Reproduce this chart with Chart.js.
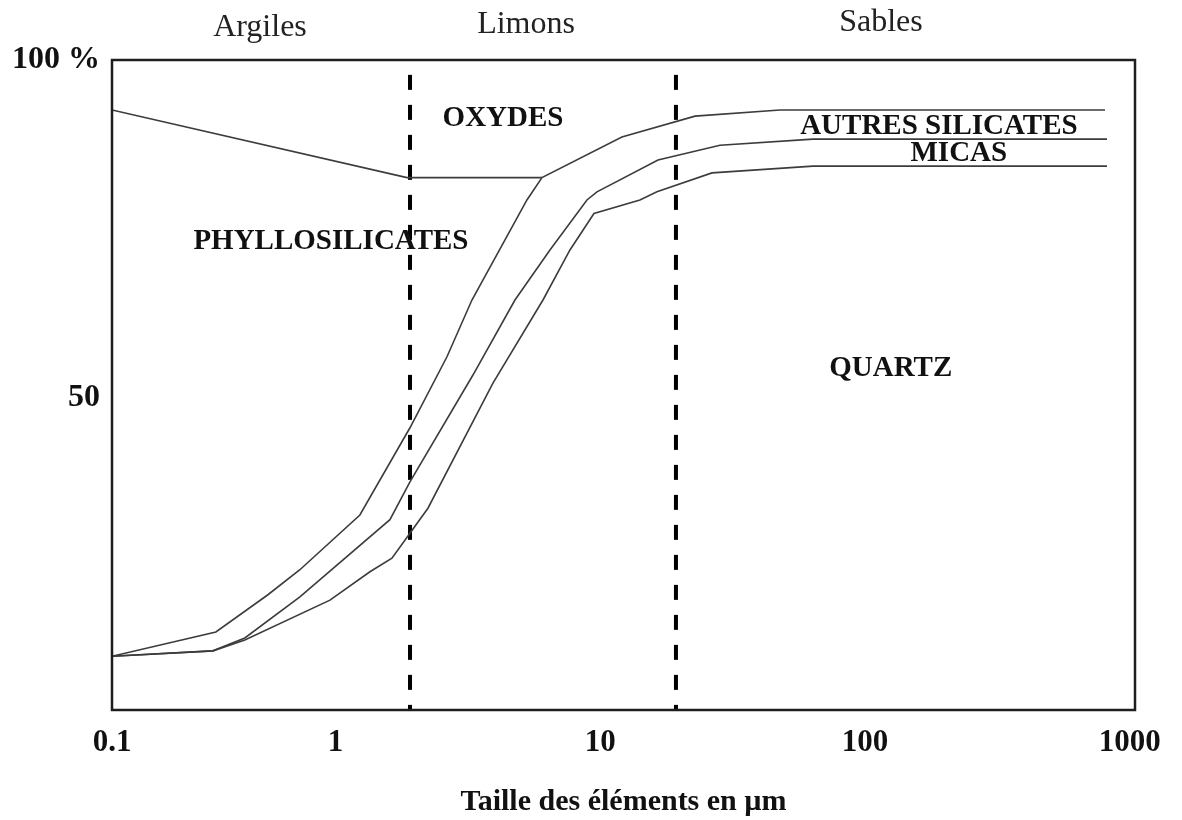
<!DOCTYPE html>
<html><head><meta charset="utf-8">
<script src="https://cdn.jsdelivr.net/npm/chart.js@4.4.1/dist/chart.umd.min.js"></script>
<style>html,body{margin:0;padding:0;background:#fff;}#wrap{width:1182px;height:820px;position:relative;}</style>
</head><body><div id="wrap"><canvas id="c" width="1182" height="820"></canvas></div>
<script>
// ---- data (x = particle size in µm, log axis; y = cumulative %) ----
// the printed axis of the original figure labels its left edge "0.1"
const X_MIN = 0.143, X_MAX = 1046;
const xTicks = [X_MIN, 1, 10, 100, 1000];
const xTickLabels = ['0.1', '1', '10', '100', '1000'];
const yTicks = [50, 100];
const yTickLabels = ['50', '100 %'];
const Y_MIN = 3.85, Y_MAX = 100;

// upper limit of phyllosilicates (lower limit of oxydes)
const phylloX = [0.143, 1.86, 6.02];
const phylloY = [92.6, 82.6, 82.6];

// upper limit of autres silicates
const autresX = [0.143, 0.353, 0.555, 0.733, 1.235, 1.909, 2.634, 3.273, 5.281, 6.018, 12.06, 22.78, 47.71, 806];
const autresY = [11.8, 15.4, 20.9, 24.6, 32.7, 45.6, 56.1, 64.5, 79.3, 82.6, 88.6, 91.7, 92.6, 92.6];

// upper limit of micas
const micasX = [0.143, 0.344, 0.454, 0.733, 1.604, 1.909, 3.302, 4.758, 6.451, 8.899, 9.710, 16.51, 28.31, 63.57, 820];
const micasY = [11.8, 12.6, 14.5, 20.6, 32.0, 37.6, 53.4, 64.5, 71.9, 79.3, 80.5, 85.2, 87.4, 88.3, 88.3];

// upper limit of quartz
const quartzX = [0.143, 0.344, 0.454, 0.952, 1.348, 1.632, 1.909, 2.232, 3.929, 6.071, 7.677, 9.459, 14.11, 16.36, 26.40, 63.57, 820];
const quartzY = [11.8, 12.6, 14.2, 20.1, 24.3, 26.3, 30.0, 33.7, 52.2, 64.5, 71.9, 77.3, 79.3, 80.5, 83.3, 84.3, 84.3];

// class boundaries (µm): argiles / limons / sables
const boundaries = [1.91, 19.3];
const boundaryTop = 97.8;

const classLabels = ['Argiles', 'Limons', 'Sables'];
const classLabelX = [0.518, 5.24, 114.8];

const regionLabels = ['OXYDES', 'AUTRES SILICATES', 'MICAS', 'PHYLLOSILICATES', 'QUARTZ'];
const regionLabelX = [4.29, 190, 226, 0.960, 125];
const regionLabelY = [91.3, 90.1, 86.1, 73.2, 54.3];

// ---- build ----
const pts = (xs, ys) => xs.map((x, i) => ({x: x, y: ys[i]}));
const lineStyle = {borderColor: '#3c3c3c', borderWidth: 1.6, pointRadius: 0, tension: 0, fill: false};
const datasets = [
  Object.assign({label: 'phyllo', data: pts(phylloX, phylloY)}, lineStyle),
  Object.assign({label: 'autres', data: pts(autresX, autresY)}, lineStyle),
  Object.assign({label: 'micas', data: pts(micasX, micasY)}, lineStyle),
  Object.assign({label: 'quartz', data: pts(quartzX, quartzY)}, lineStyle)
];
boundaries.forEach((b, i) => datasets.push({
  label: 'limit' + i, data: [{x: b, y: boundaryTop}, {x: b, y: Y_MIN}],
  borderColor: '#000', borderWidth: 4, borderDash: [15, 15], pointRadius: 0, fill: false
}));

const FONT = '"Liberation Serif", "Times New Roman", serif';

const decor = {
  id: 'decor',
  afterDatasetsDraw(chart) {
    const {ctx, chartArea: a, scales: {x, y}} = chart;
    ctx.save();
    ctx.strokeStyle = '#1e1e1e';
    ctx.lineWidth = 2.5;
    ctx.strokeRect(a.left, a.top, a.right - a.left, a.bottom - a.top);
    ctx.fillStyle = '#111';
    ctx.textAlign = 'center';
    ctx.textBaseline = 'middle';
    ctx.font = 'bold 29px ' + FONT;
    regionLabels.forEach((t, i) => ctx.fillText(t, x.getPixelForValue(regionLabelX[i]), y.getPixelForValue(regionLabelY[i])));
    ctx.font = '32px ' + FONT;
    ctx.fillStyle = '#222';
    const dy = [32, 35, 37];
    classLabels.forEach((t, i) => ctx.fillText(t, x.getPixelForValue(classLabelX[i]), a.top - dy[i]));
    ctx.restore();
  }
};

new Chart(document.getElementById('c'), {
  type: 'line',
  data: {datasets: datasets},
  options: {
    responsive: false,
    animation: false,
    layout: {padding: {top: 60, right: 47, left: 0, bottom: 0}},
    plugins: {legend: {display: false}, tooltip: {enabled: false}},
    scales: {
      x: {
        type: 'logarithmic', min: X_MIN, max: X_MAX,
        grid: {display: false, drawTicks: false},
        border: {display: false},
        afterBuildTicks: s => { s.ticks = xTicks.map(v => ({value: v})); },
        ticks: {
          autoSkip: false, maxRotation: 0, padding: 14, color: '#111',
          font: {family: FONT, size: 31, weight: 'bold'},
          callback: (v) => { const i = xTicks.indexOf(v); return i >= 0 ? xTickLabels[i] : ''; }
        },
        title: {display: true, text: 'Taille des éléments en µm', color: '#111',
                font: {family: FONT, size: 30, weight: 'bold'}, padding: {top: 18, bottom: 0}},
        afterFit: s => { s.height = 110; }
      },
      y: {
        type: 'linear', min: Y_MIN, max: Y_MAX,
        grid: {display: false, drawTicks: false},
        border: {display: false},
        afterBuildTicks: s => { s.ticks = yTicks.map(v => ({value: v})); },
        ticks: {
          padding: 12, color: '#111',
          font: {family: FONT, size: 32, weight: 'bold'},
          callback: (v) => { const i = yTicks.indexOf(v); return i >= 0 ? yTickLabels[i] : ''; }
        },
        afterFit: s => { s.width = 112; }
      }
    }
  },
  plugins: [decor]
});
</script></body></html>
